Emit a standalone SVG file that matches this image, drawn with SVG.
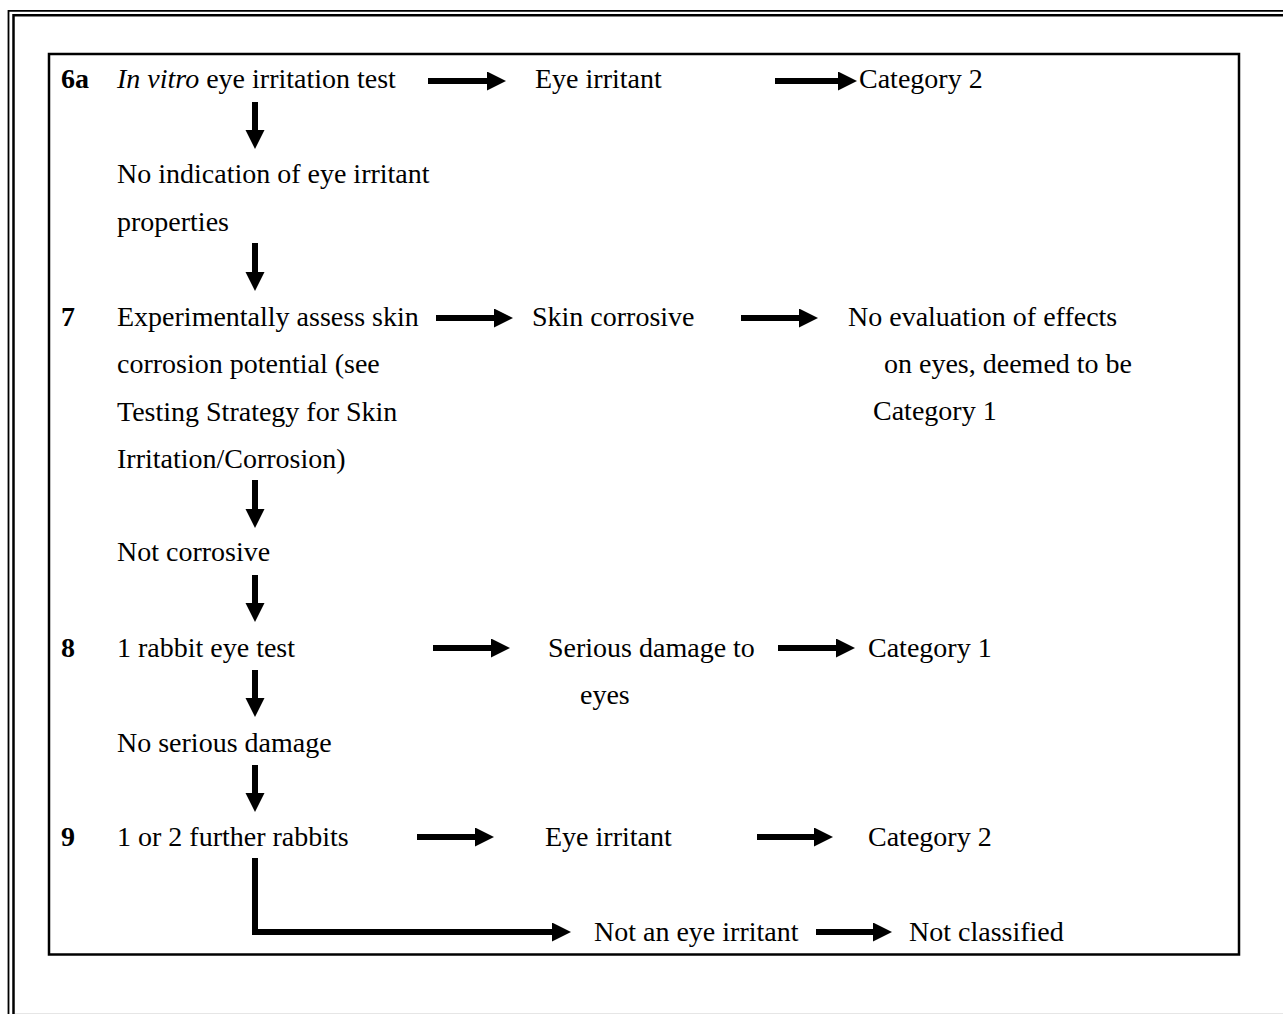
<svg xmlns="http://www.w3.org/2000/svg" width="1283" height="1014" viewBox="0 0 1283 1014">
  <style>
    .t { font-family: "Liberation Serif", "Times New Roman", serif; font-size: 28px; fill: #000; }
    .b { font-weight: bold; }
    .i { font-style: italic; }
    .frame { fill: none; stroke: #000; }
    .cn { stroke: #000; stroke-width: 6; fill: none; }
  </style>
  <defs>
    <marker id="ah" markerUnits="userSpaceOnUse" markerWidth="20" markerHeight="20" refX="0" refY="9.5" orient="auto">
      <path d="M0,0 L19,9.5 L0,19 Z" fill="#000"/>
    </marker>
  </defs>
  <rect width="1283" height="1014" fill="#fff"/>

  <!-- page frame (double rule) -->
  <g id="page-frame">
    <path class="frame" d="M8.5,1014 V10.8 H1283" stroke-width="1.8"/>
    <path class="frame" d="M13.5,1014 V15.3 H1283" stroke-width="2.5"/>
    <line x1="15" y1="1013.5" x2="1283" y2="1013.5" stroke="#e6e6e6" stroke-width="1"/>
  </g>

  <!-- flowchart box -->
  <rect id="box" x="49" y="54" width="1190" height="900.5" class="frame" stroke-width="2.5"/>

  <!-- connectors -->
  <g id="connectors">
    <!-- vertical flow -->
    <line class="cn" x1="255" y1="102" x2="255" y2="130" marker-end="url(#ah)"/>
    <line class="cn" x1="255" y1="243" x2="255" y2="272" marker-end="url(#ah)"/>
    <line class="cn" x1="255" y1="480" x2="255" y2="509" marker-end="url(#ah)"/>
    <line class="cn" x1="255" y1="575" x2="255" y2="603" marker-end="url(#ah)"/>
    <line class="cn" x1="255" y1="670" x2="255" y2="698" marker-end="url(#ah)"/>
    <line class="cn" x1="255" y1="765" x2="255" y2="793" marker-end="url(#ah)"/>
    <polyline class="cn" points="255,858 255,932 552,932" marker-end="url(#ah)"/>
    <!-- step 6a -->
    <line class="cn" x1="428" y1="81" x2="487" y2="81" marker-end="url(#ah)"/>
    <line class="cn" x1="775" y1="81" x2="838" y2="81" marker-end="url(#ah)"/>
    <!-- step 7 -->
    <line class="cn" x1="436" y1="318" x2="494" y2="318" marker-end="url(#ah)"/>
    <line class="cn" x1="741" y1="318" x2="799" y2="318" marker-end="url(#ah)"/>
    <!-- step 8 -->
    <line class="cn" x1="433" y1="648" x2="491" y2="648" marker-end="url(#ah)"/>
    <line class="cn" x1="778" y1="648" x2="836" y2="648" marker-end="url(#ah)"/>
    <!-- step 9 -->
    <line class="cn" x1="417" y1="837" x2="475" y2="837" marker-end="url(#ah)"/>
    <line class="cn" x1="757" y1="837" x2="814" y2="837" marker-end="url(#ah)"/>
    <line class="cn" x1="816" y1="932" x2="873" y2="932" marker-end="url(#ah)"/>
  </g>

  <!-- step labels -->
  <g id="step-6a">
    <text class="t b" x="61" y="88">6a</text>
    <text class="t" x="117" y="88"><tspan class="i">In vitro</tspan> eye irritation test</text>
  </g>
  <g id="eye-irritant-6a"><text class="t" x="535" y="88">Eye irritant</text></g>
  <g id="category-2-6a"><text class="t" x="859" y="88">Category 2</text></g>
  <g id="no-indication">
    <text class="t" x="117" y="183">No indication of eye irritant</text>
    <text class="t" x="117" y="231">properties</text>
  </g>

  <g id="step-7">
    <text class="t b" x="61" y="326">7</text>
    <text class="t" x="117" y="326">Experimentally assess skin</text>
    <text class="t" x="117" y="373">corrosion potential (see</text>
    <text class="t" x="117" y="421">Testing Strategy for Skin</text>
    <text class="t" x="117" y="468">Irritation/Corrosion)</text>
  </g>
  <g id="skin-corrosive"><text class="t" x="532" y="326">Skin corrosive</text></g>
  <g id="no-evaluation">
    <text class="t" x="848" y="326">No evaluation of effects</text>
    <text class="t" x="884" y="373">on eyes, deemed to be</text>
    <text class="t" x="873" y="420">Category 1</text>
  </g>
  <g id="not-corrosive"><text class="t" x="117" y="561">Not corrosive</text></g>

  <g id="step-8">
    <text class="t b" x="61" y="657">8</text>
    <text class="t" x="117" y="657">1 rabbit eye test</text>
  </g>
  <g id="serious-damage">
    <text class="t" x="548" y="657">Serious damage to</text>
    <text class="t" x="580" y="704">eyes</text>
  </g>
  <g id="category-1-8"><text class="t" x="868" y="657">Category 1</text></g>
  <g id="no-serious-damage"><text class="t" x="117" y="752">No serious damage</text></g>

  <g id="step-9">
    <text class="t b" x="61" y="846">9</text>
    <text class="t" x="117" y="846">1 or 2 further rabbits</text>
  </g>
  <g id="eye-irritant-9"><text class="t" x="545" y="846">Eye irritant</text></g>
  <g id="category-2-9"><text class="t" x="868" y="846">Category 2</text></g>
  <g id="not-eye-irritant"><text class="t" x="594" y="941">Not an eye irritant</text></g>
  <g id="not-classified"><text class="t" x="909" y="941">Not classified</text></g>
</svg>
